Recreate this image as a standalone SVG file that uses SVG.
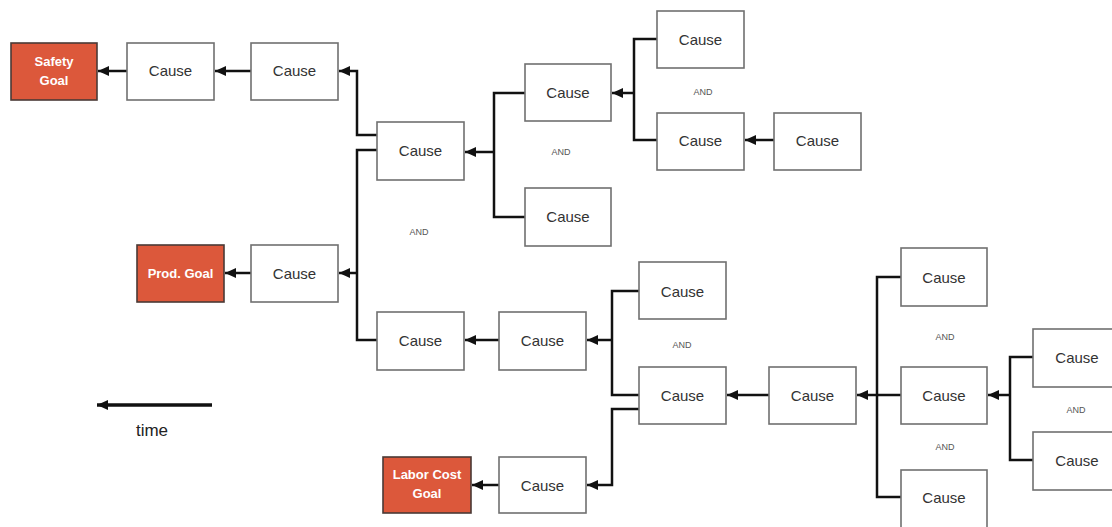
<svg xmlns="http://www.w3.org/2000/svg" width="1112" height="527" viewBox="0 0 1112 527">
<style>
.c rect{fill:#fff;stroke:#707070;stroke-width:1.6}
.g rect{fill:#dc583b;stroke:#4a3a36;stroke-width:1.6}
.c text{font-family:"Liberation Sans",Arial,sans-serif;font-size:15px;fill:#333;text-anchor:middle}
.g text{font-family:"Liberation Sans",Arial,sans-serif;font-size:13px;font-weight:bold;fill:#fff;text-anchor:middle}
.and{font-family:"Liberation Sans",Arial,sans-serif;font-size:9px;fill:#555;text-anchor:middle}
.w{fill:none;stroke:#111;stroke-width:2.5}
.a{fill:none;stroke:#111;stroke-width:2.5;marker-end:url(#ah)}
</style>
<defs>
<marker id="ah" markerUnits="userSpaceOnUse" markerWidth="12" markerHeight="12" refX="11" refY="6" orient="auto">
<path d="M0,1 L11,6 L0,11 Z" fill="#111"/>
</marker>
</defs>
<rect width="1112" height="527" fill="#fff"/>
<g id="connectors">
<path class="a" d="M127,71 H98"/>
<path class="a" d="M251,71 H215"/>
<path class="a" d="M377,135 H357 V71 H339"/>
<path class="w" d="M377,150 H357 V340 H377"/>
<path class="a" d="M357,273 H339"/>
<path class="a" d="M251,273 H225"/>
<path class="w" d="M525,93 H494 V217 H525"/>
<path class="a" d="M494,152 H465"/>
<path class="w" d="M657,39 H634 V140 H657"/>
<path class="a" d="M634,93 H612"/>
<path class="a" d="M774,140 H745"/>
<path class="a" d="M499,340 H465"/>
<path class="w" d="M639,291 H612 V395 H639"/>
<path class="a" d="M612,340 H587"/>
<path class="a" d="M639,409 H612 V485 H587"/>
<path class="a" d="M499,485 H472"/>
<path class="a" d="M769,395 H727"/>
<path class="w" d="M901,277 H877 V497 H901"/>
<path class="a" d="M901,395 H857"/>
<path class="w" d="M1033,357 H1010 V460 H1033"/>
<path class="a" d="M1010,395 H988"/>
<path class="a" d="M212,405 H97" style="stroke-width:3.5"/>
</g>
<g id="safety-goal" class="g"><rect x="11" y="43" width="86" height="57"/><text x="54" y="66">Safety</text><text x="54" y="85">Goal</text></g>
<g id="prod-goal" class="g"><rect x="137" y="245" width="87" height="57"/><text x="180.5" y="278">Prod. Goal</text></g>
<g id="labor-goal" class="g"><rect x="383" y="457" width="88" height="56"/><text x="427" y="479">Labor Cost</text><text x="427" y="498">Goal</text></g>
<g id="cause-s1" class="c"><rect x="127" y="43" width="87" height="57"/><text x="170.5" y="76">Cause</text></g>
<g id="cause-s2" class="c"><rect x="251" y="43" width="87" height="57"/><text x="294.5" y="76">Cause</text></g>
<g id="cause-a" class="c"><rect x="377" y="122" width="87" height="58"/><text x="420.5" y="156">Cause</text></g>
<g id="cause-p" class="c"><rect x="251" y="245" width="87" height="57"/><text x="294.5" y="279">Cause</text></g>
<g id="cause-b" class="c"><rect x="377" y="312" width="87" height="58"/><text x="420.5" y="346">Cause</text></g>
<g id="cause-c" class="c"><rect x="525" y="64" width="86" height="57"/><text x="568" y="98">Cause</text></g>
<g id="cause-d" class="c"><rect x="525" y="188" width="86" height="58"/><text x="568" y="222">Cause</text></g>
<g id="cause-e" class="c"><rect x="657" y="11" width="87" height="57"/><text x="700.5" y="45">Cause</text></g>
<g id="cause-f" class="c"><rect x="657" y="113" width="87" height="57"/><text x="700.5" y="146">Cause</text></g>
<g id="cause-g" class="c"><rect x="774" y="113" width="87" height="57"/><text x="817.5" y="146">Cause</text></g>
<g id="cause-h" class="c"><rect x="499" y="312" width="87" height="58"/><text x="542.5" y="346">Cause</text></g>
<g id="cause-i" class="c"><rect x="639" y="262" width="87" height="57"/><text x="682.5" y="297">Cause</text></g>
<g id="cause-j" class="c"><rect x="639" y="367" width="87" height="57"/><text x="682.5" y="401">Cause</text></g>
<g id="cause-l" class="c"><rect x="499" y="457" width="87" height="56"/><text x="542.5" y="491">Cause</text></g>
<g id="cause-k" class="c"><rect x="769" y="367" width="87" height="57"/><text x="812.5" y="401">Cause</text></g>
<g id="cause-m1" class="c"><rect x="901" y="248" width="86" height="58"/><text x="944" y="283">Cause</text></g>
<g id="cause-m2" class="c"><rect x="901" y="367" width="86" height="57"/><text x="944" y="401">Cause</text></g>
<g id="cause-m3" class="c"><rect x="901" y="470" width="86" height="60"/><text x="944" y="503">Cause</text></g>
<g id="cause-o" class="c"><rect x="1033" y="329" width="87" height="58"/><text x="1077" y="363">Cause</text></g>
<g id="cause-q" class="c"><rect x="1033" y="432" width="87" height="58"/><text x="1077" y="466">Cause</text></g>
<g id="labels">
<text class="and" x="419" y="235">AND</text>
<text class="and" x="561" y="155">AND</text>
<text class="and" x="703" y="95">AND</text>
<text class="and" x="682" y="348">AND</text>
<text class="and" x="945" y="340">AND</text>
<text class="and" x="945" y="450">AND</text>
<text class="and" x="1076" y="413">AND</text>
<text x="152" y="436" style="font-family:'Liberation Sans',Arial,sans-serif;font-size:17px;fill:#222;text-anchor:middle">time</text>
</g>
</svg>
